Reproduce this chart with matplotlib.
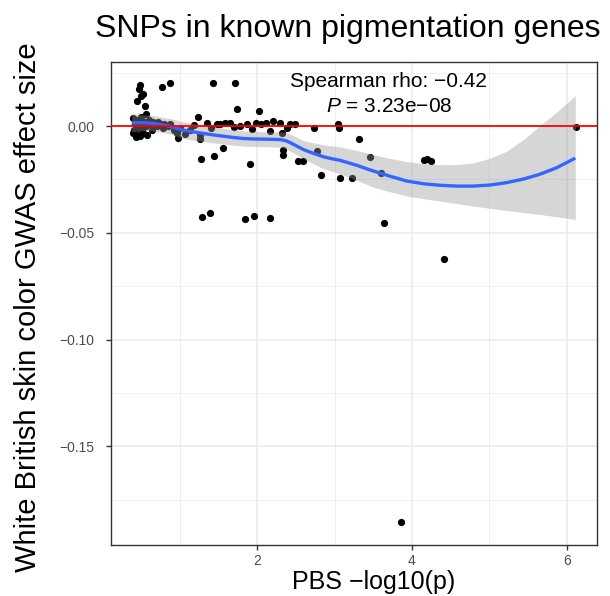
import numpy as np
import matplotlib
matplotlib.use("Agg")
import matplotlib.pyplot as plt

plt.rcParams['font.family'] = ['Liberation Sans', 'DejaVu Sans']
plt.rcParams['mathtext.fontset'] = 'custom'
plt.rcParams['mathtext.it'] = 'Liberation Sans:italic'
plt.rcParams['mathtext.rm'] = 'Liberation Sans'

# ---- scatter data (PBS -log10(p), GWAS effect size) ----
pbs = [
    # high points
    0.49, 0.47, 0.53, 0.50, 0.45, 0.55, 0.77, 0.88, 1.43, 1.71, 1.74, 2.02, 1.24,
    # dense cluster near x~0.4-0.8
    0.40, 0.42, 0.41, 0.39, 0.44, 0.45, 0.47, 0.48, 0.46, 0.50, 0.52, 0.51, 0.53,
    0.55, 0.56, 0.58, 0.60, 0.62, 0.57, 0.43, 0.49, 0.64, 0.66, 0.70, 0.72, 0.75,
    0.78, 0.80, 0.85, 0.88, 0.92, 0.96, 0.98, 1.00, 1.07, 1.13,
    # near zero 1.2-3.1
    1.26, 1.26, 1.35, 1.48, 1.59, 1.65, 1.87, 1.99, 2.12, 2.17, 2.21, 2.29, 2.32,
    2.43, 2.49, 2.73, 3.05, 3.06, 1.18, 1.40, 1.52, 1.70, 1.78, 1.93, 2.05, 2.38,
    # below the line
    1.28, 1.44, 1.56, 1.91, 2.34, 2.34, 2.53, 2.59, 2.77, 2.83, 3.07, 3.23, 3.32,
    3.46, 3.60, 4.15, 4.20, 4.25, 6.12,
    # far below
    1.29, 1.39, 1.84, 1.96, 2.16, 3.64, 4.42, 3.86,
]
effect = [
    0.0195, 0.0175, 0.0150, 0.0140, 0.0120, 0.0095, 0.0185, 0.0201, 0.0201, 0.0204, 0.0081, 0.0070, 0.0045,
    0.0040, 0.0010, -0.0020, -0.0030, 0.0030, -0.0040, 0.0000, 0.0020, -0.0010, 0.0045, 0.0010, -0.0020, -0.0030,
    0.0020, 0.0000, -0.0040, 0.0030, 0.0010, 0.0055, -0.0050, -0.0045, -0.0020, 0.0020, 0.0000, 0.0020, 0.0010,
    -0.0010, 0.0010, 0.0000, 0.0010, -0.0020, -0.0031, -0.0055, -0.0010, -0.0039, -0.0016,
    -0.0040, -0.0058, 0.0016, 0.0008, 0.0016, 0.0013, 0.0008, 0.0013, 0.0016, -0.0024, 0.0024, 0.0016, -0.0031,
    0.0008, 0.0008, -0.0008, 0.0008, -0.0008, 0.0005, -0.0010, 0.0010, -0.0005, 0.0000, -0.0012, 0.0012, -0.0008,
    -0.0153, -0.0141, -0.0102, -0.0177, -0.0113, -0.0136, -0.0165, -0.0165, -0.0118, -0.0230, -0.0244, -0.0244, -0.0061,
    -0.0144, -0.0220, -0.0158, -0.0155, -0.0162, -0.0006,
    -0.0426, -0.0406, -0.0434, -0.0423, -0.0429, -0.0455, -0.0622, -0.1853,
]

# ---- loess smooth ----
smooth_x = [0.38, 0.52, 0.66, 0.76, 0.87, 0.96, 1.05, 1.18, 1.30, 1.43, 1.56, 1.69, 1.82, 1.95, 2.08, 2.20,
            2.30, 2.37, 2.43, 2.51, 2.60, 2.73, 2.86, 2.97, 3.07, 3.18, 3.30, 3.40, 3.50, 3.72, 3.93, 4.15,
            4.36, 4.58, 4.79, 5.01, 5.22, 5.44, 5.65, 5.87, 6.11]
smooth_y = [0.0016, 0.0016, 0.0013, 0.0007, 0.0000, -0.0010, -0.0019, -0.0027, -0.0034, -0.0041, -0.0047,
            -0.0053, -0.0058, -0.0060, -0.0061, -0.0062, -0.0063, -0.0068, -0.0078, -0.0093, -0.0110, -0.0128,
            -0.0144, -0.0153, -0.0160, -0.0172, -0.0185, -0.0198, -0.0210, -0.0235, -0.0257, -0.0270,
            -0.0277, -0.0281, -0.0281, -0.0276, -0.0265, -0.0248, -0.0226, -0.0195, -0.0150]
smooth_hi = [0.0058, 0.0053, 0.0049, 0.0043, 0.0036, 0.0028, 0.0020, 0.0012, 0.0004, -0.0003, -0.0010,
             -0.0016, -0.0022, -0.0024, -0.0026, -0.0027, -0.0027, -0.0031, -0.0038, -0.0052, -0.0068, -0.0078,
             -0.0088, -0.0093, -0.0097, -0.0106, -0.0115, -0.0124, -0.0134, -0.0151, -0.0166, -0.0175,
             -0.0181, -0.0180, -0.0173, -0.0150, -0.0118, -0.0063, 0.0001, 0.0066, 0.0143]
smooth_lo = [-0.0026, -0.0021, -0.0023, -0.0029, -0.0036, -0.0047, -0.0058, -0.0066, -0.0072, -0.0078, -0.0084,
             -0.0089, -0.0094, -0.0095, -0.0096, -0.0097, -0.0099, -0.0106, -0.0118, -0.0134, -0.0152, -0.0177,
             -0.0200, -0.0212, -0.0223, -0.0239, -0.0255, -0.0271, -0.0286, -0.0308, -0.0327, -0.0340,
             -0.0351, -0.0363, -0.0375, -0.0385, -0.0395, -0.0405, -0.0414, -0.0425, -0.0437]

x_ticks = [2, 4, 6]
x_minor = [1, 3, 5]
y_ticks = [0.00, -0.05, -0.10, -0.15]
y_tick_labels = ["0.00", "\u22120.05", "\u22120.10", "\u22120.15"]
y_minor = [0.025, -0.025, -0.075, -0.125, -0.175]

title = "SNPs in known pigmentation genes"
xlabel = "PBS \u2212log10(p)"
ylabel = "White British skin color GWAS effect size"
annot1 = "Spearman rho: \u22120.42"
annot2 = "$\\mathit{P}$ = 3.23e\u221208"

fig = plt.figure(figsize=(6.10, 5.96), dpi=100)
ax = fig.add_axes([110.7/610, 1-545/596, (597.3-110.7)/610, (545-61.7)/596])

grid_c = "#EBEBEB"
for v in x_minor:
    ax.axvline(v, color=grid_c, lw=0.55, zorder=0)
for v in x_ticks:
    ax.axvline(v, color=grid_c, lw=1.1, zorder=0)
for v in y_minor:
    ax.axhline(v, color=grid_c, lw=0.55, zorder=0)
for v in y_ticks:
    ax.axhline(v, color=grid_c, lw=1.1, zorder=0)

ax.scatter(pbs, effect, s=27, color="black", linewidths=0, zorder=2)
ax.fill_between(smooth_x, smooth_lo, smooth_hi, color="#999999", alpha=0.4, linewidth=0, zorder=3)
ax.plot(smooth_x, smooth_y, color="#3366FF", lw=2.4, zorder=4, solid_capstyle="butt",
        solid_joinstyle="round")
ax.axhline(0, color="#FF0000", lw=1.3, zorder=5)

ax.set_xlim(0.108, 6.395)
ax.set_ylim(-0.1963, 0.0302)
ax.set_xticks(x_ticks)
ax.set_xticklabels([str(t) for t in x_ticks])
ax.set_yticks(y_ticks)
ax.set_yticklabels(y_tick_labels)
ax.tick_params(axis="both", length=3.5, width=1.0, color="#333333",
               labelcolor="#4D4D4D", labelsize=10)
ax.tick_params(axis="y", pad=8)
ax.tick_params(axis="x", pad=3)
for sp in ax.spines.values():
    sp.set_color("#333333")
    sp.set_linewidth(1.0)

ax.text(3.70, 0.0182, annot1, ha="center", va="baseline", fontsize=15)
ax.text(3.70, 0.0064, annot2, ha="center", va="baseline", fontsize=15)

fig.text(95/610, 1-37/596, title, ha="left", va="baseline", fontsize=23)
fig.text(374/610, 1-589/596, xlabel, ha="center", va="baseline", fontsize=18)
fig.text(36/610, 1-307/596, ylabel, ha="center", va="baseline", rotation=90,
         rotation_mode="anchor", fontsize=21)

fig.savefig("out.png", dpi=100)
